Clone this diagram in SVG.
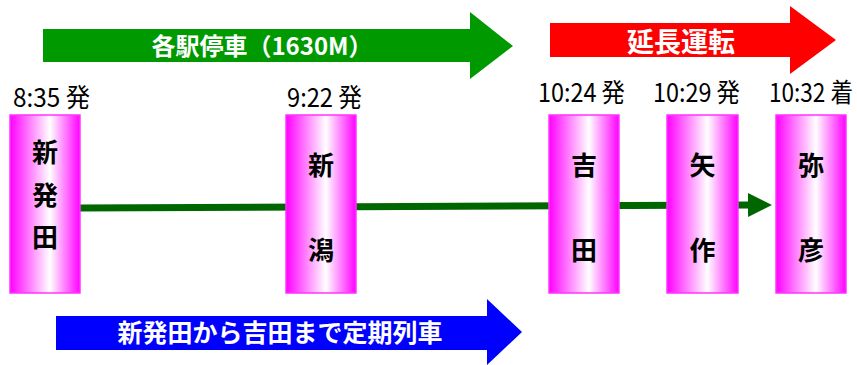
<svg xmlns="http://www.w3.org/2000/svg" width="857" height="365" viewBox="0 0 857 365">
<style>
.box{fill:url(#mg);stroke:#ff33ff;stroke-width:1.5}
.st{font-family:"Noto Sans CJK JP",sans-serif;font-weight:bold;font-size:26px;fill:#000;text-anchor:middle}
.tm{font-family:"Noto Sans CJK JP",sans-serif;font-size:23px;fill:#000}
.bn{font-family:"Noto Sans CJK JP",sans-serif;font-weight:bold;font-size:24px;fill:#fff;text-anchor:middle}
.ln{stroke:#006600;stroke-width:7;fill:none}
</style>
<defs>
<linearGradient id="mg" x1="0" y1="0" x2="1" y2="0">
<stop offset="0" stop-color="#ff00ff"/>
<stop offset="0.57" stop-color="#ffffff"/>
<stop offset="1" stop-color="#ff00ff"/>
</linearGradient>
<marker id="ah" markerUnits="userSpaceOnUse" markerWidth="24" markerHeight="24" refX="2" refY="12" orient="auto">
<path d="M0,0 L24,12 L0,24 z" fill="#006600"/>
</marker>
</defs>
<rect width="857" height="365" fill="#fff"/>
<g id="arrow-local">
<polygon points="43,29 470,29 470,12 513,46 470,79 470,62 43,62" fill="#009900"/>
<text class="bn" x="262" y="55">各駅停車（1630M）</text>
</g>
<g id="arrow-extension">
<polygon points="550,23 790,23 790,6 836,40 790,74 790,57 550,57" fill="#ff0000"/>
<text class="bn" x="681" y="52" style="font-size:27px">延長運転</text>
</g>
<g id="arrow-regular">
<polygon points="56,316 487,316 487,299 522,332 487,365 487,350 56,350" fill="#0000ff"/>
<text class="bn" x="280" y="342" style="font-size:25px">新発田から吉田まで定期列車</text>
</g>
<g id="connectors">
<line class="ln" x1="80" y1="208" x2="750" y2="205" marker-end="url(#ah)"/>
</g>
<g id="shibata">
<text class="tm" transform="translate(13,107) scale(1,1.13)" textLength="77" lengthAdjust="spacingAndGlyphs">8:35 発</text>
<rect class="box" x="10" y="115" width="70" height="178"/>
<text class="st" x="45" y="162">新</text>
<text class="st" x="45" y="205">発</text>
<text class="st" x="45" y="247">田</text>
</g>
<g id="niigata">
<text class="tm" transform="translate(287,107) scale(1,1.13)" textLength="75" lengthAdjust="spacingAndGlyphs">9:22 発</text>
<rect class="box" x="286" y="115" width="70" height="178"/>
<text class="st" x="321" y="175">新</text>
<text class="st" x="321" y="260">潟</text>
</g>
<g id="yoshida">
<text class="tm" transform="translate(538,102) scale(1,1.13)" textLength="87" lengthAdjust="spacingAndGlyphs">10:24 発</text>
<rect class="box" x="549" y="115" width="70" height="178"/>
<text class="st" x="584" y="175">吉</text>
<text class="st" x="584" y="260">田</text>
</g>
<g id="yahagi">
<text class="tm" transform="translate(653,102) scale(1,1.13)" textLength="87" lengthAdjust="spacingAndGlyphs">10:29 発</text>
<rect class="box" x="667" y="115" width="71" height="178"/>
<text class="st" x="702.5" y="175">矢</text>
<text class="st" x="702.5" y="260">作</text>
</g>
<g id="yahiko">
<text class="tm" transform="translate(769,102) scale(1,1.13)" textLength="84" lengthAdjust="spacingAndGlyphs">10:32 着</text>
<rect class="box" x="776" y="115" width="70" height="178"/>
<text class="st" x="811" y="175">弥</text>
<text class="st" x="811" y="260">彦</text>
</g>
</svg>
